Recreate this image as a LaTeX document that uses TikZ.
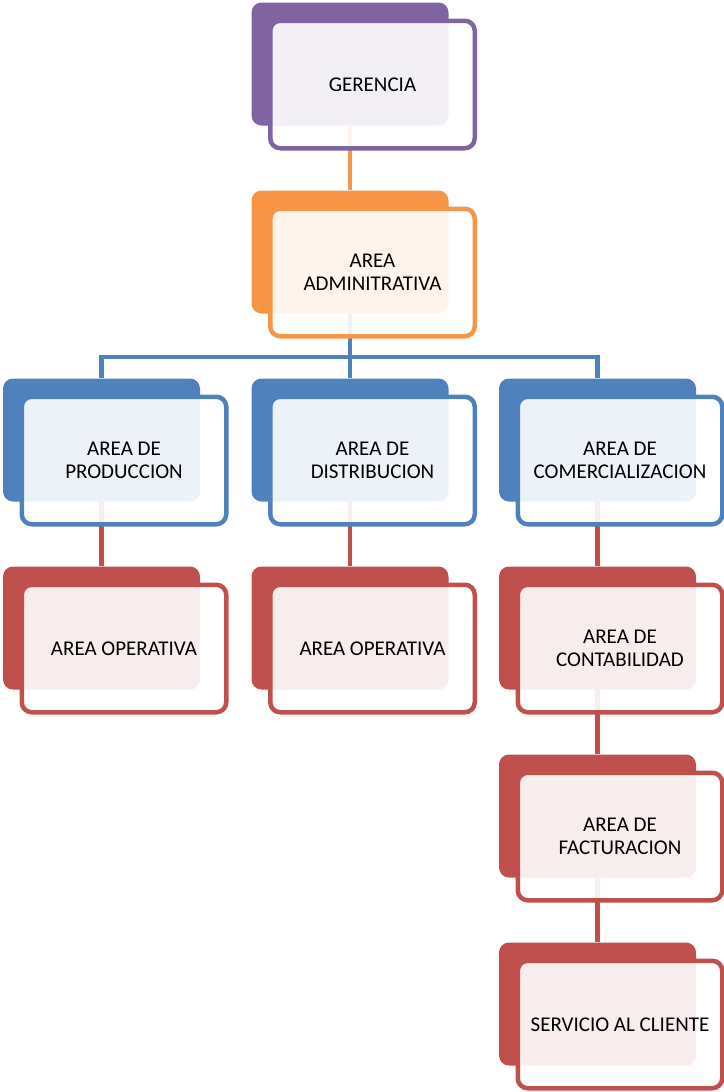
\documentclass[tikz,border=0pt]{standalone}
\usepackage{fontspec}
\setmainfont{Carlito}
\usepackage{tikz}

\definecolor{orgpurple}{HTML}{8064A2}
\definecolor{orgorange}{HTML}{F79646}
\definecolor{orgblue}{HTML}{4F81BD}
\definecolor{orgred}{HTML}{C0504D}

\begin{document}
\begin{tikzpicture}[
    x=1pt, y=-1pt,
    backbox/.style={rectangle, rounded corners=10pt, fill=#1, minimum width=197pt, minimum height=123pt, inner sep=0pt},
    frontbox/.style={rectangle, rounded corners=10pt, draw=#1, line width=4.5pt, fill=white, fill opacity=0.9, text opacity=1, minimum width=204.5pt, minimum height=127.5pt, inner sep=0pt, align=center, font=\fontsize{21}{23}\selectfont},
    link/.style={draw=#1, line width=4.5pt},
]
    \useasboundingbox (0,0) rectangle (723,1092);

    % Back blocks
    \node[backbox=orgpurple] (gerB)  at (350, 64) {};
    \node[backbox=orgorange] (admB)  at (350, 252) {};
    \node[backbox=orgblue]   (prodB) at (101.5, 440) {};
    \node[backbox=orgblue]   (distB) at (350, 440) {};
    \node[backbox=orgblue]   (comB)  at (597.5, 440) {};
    \node[backbox=orgred]    (opaB)  at (101.5, 628) {};
    \node[backbox=orgred]    (opbB)  at (350, 628) {};
    \node[backbox=orgred]    (contB) at (597.5, 628) {};
    \node[backbox=orgred]    (factB) at (597.5, 816) {};
    \node[backbox=orgred]    (servB) at (597.5, 1004) {};

    % Connectors
    \coordinate (bus) at (350, 357);
    \draw[link=orgorange] (gerB.south) -- (admB.north);
    \draw[link=orgblue] (admB.south) -- (bus);
    \draw[link=orgblue] (prodB.north) |- (comB.north |- bus) -- (comB.north);
    \draw[link=orgblue] (distB.north) -- (distB.north |- bus);
    \draw[link=orgred] (prodB.south) -- (opaB.north);
    \draw[link=orgred] (distB.south) -- (opbB.north);
    \draw[link=orgred] (comB.south) -- (contB.north);
    \draw[link=orgred] (contB.south) -- (factB.north);
    \draw[link=orgred] (factB.south) -- (servB.north);

    % Front blocks with text
    \node[frontbox=orgpurple] (ger)  at (372.5, 84.5) {GERENCIA};
    \node[frontbox=orgorange] (adm)  at (372.5, 272.5) {AREA\\ADMINITRATIVA};
    \node[frontbox=orgblue]   (prod) at (124, 460.5) {AREA DE\\PRODUCCION};
    \node[frontbox=orgblue]   (dist) at (372.5, 460.5) {AREA DE\\DISTRIBUCION};
    \node[frontbox=orgblue]   (com)  at (620, 460.5) {AREA DE\\COMERCIALIZACION};
    \node[frontbox=orgred]    (opa)  at (124, 648.5) {AREA OPERATIVA};
    \node[frontbox=orgred]    (opb)  at (372.5, 648.5) {AREA OPERATIVA};
    \node[frontbox=orgred]    (cont) at (620, 648.5) {AREA DE\\CONTABILIDAD};
    \node[frontbox=orgred]    (fact) at (620, 836.5) {AREA DE\\FACTURACION};
    \node[frontbox=orgred]    (serv) at (620, 1024.5) {SERVICIO AL CLIENTE};
\end{tikzpicture}
\end{document}
